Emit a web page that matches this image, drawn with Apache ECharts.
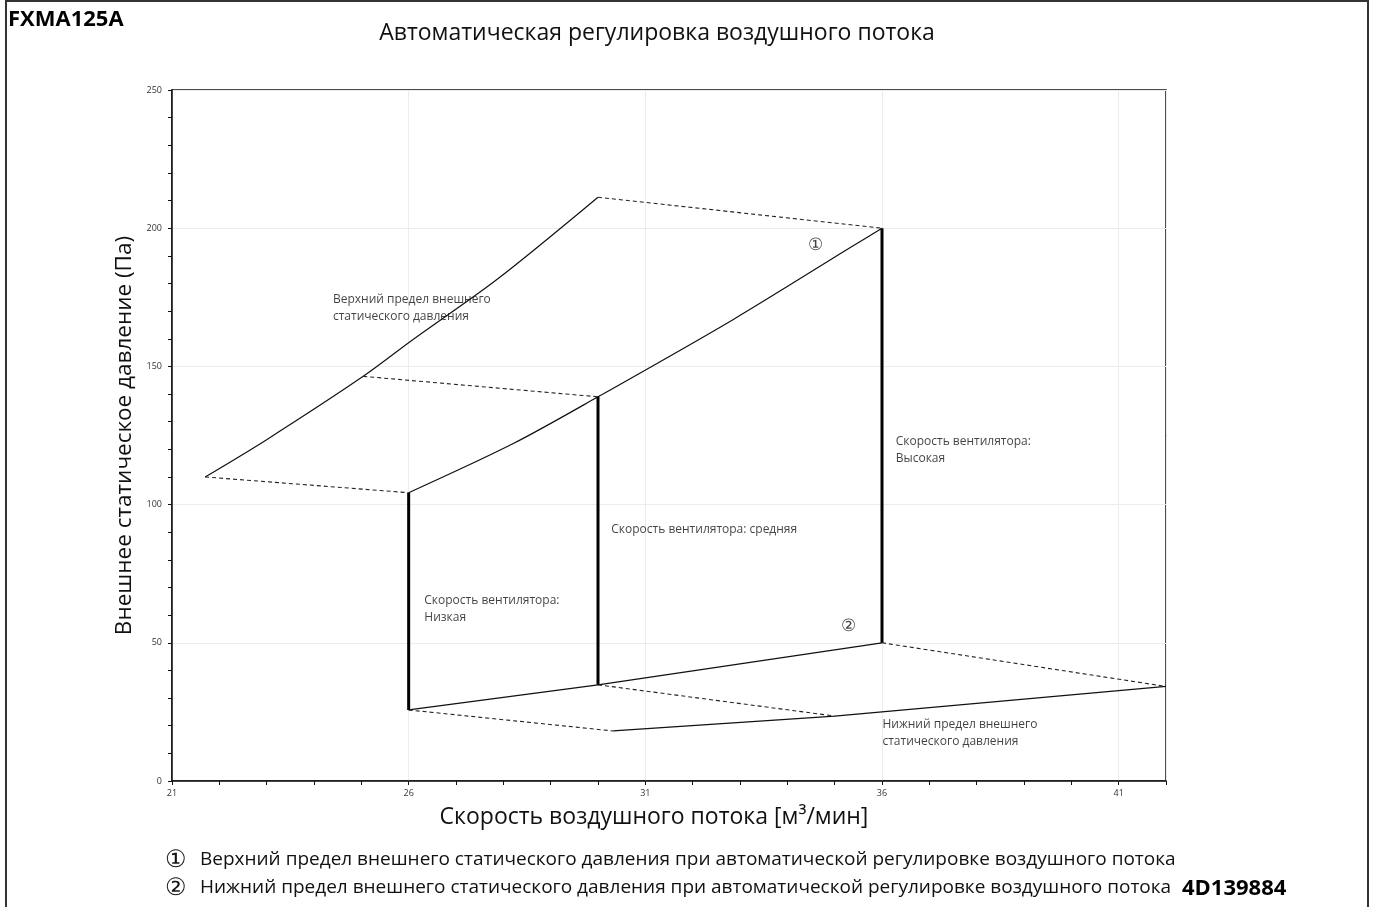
<!DOCTYPE html>
<html>
<head>
<meta charset="utf-8">
<title>FXMA125A</title>
<script src="https://cdn.jsdelivr.net/npm/echarts@6/dist/echarts.min.js"></script>
<style>
  html, body { margin: 0; padding: 0; background: #fff; }
  #main { width: 1375px; height: 907px; }
</style>
</head>
<body>
<div id="main"></div>
<script>
// кривые [расход м3/мин, давление Па]
var upperLimit = [[21.7, 110], [23, 123.5], [25.04, 146.4], [26.1, 159.8], [27.87, 181.5], [30, 211.2]];
var highCurve = [[26, 104.3], [28.2, 122], [30, 139], [32.86, 167], [35.33, 193], [36, 200]];
var lowCurve = [[26, 25.7], [30, 34.8], [36, 50]];
var lowerLimit = [[30.32, 18.1], [35, 23.5], [42, 34.2]];

// пунктирные связи
var dashLinks = [
  [[21.7, 110], [26, 104.3]],
  [[25.04, 146.4], [30, 139]],
  [[30, 211.2], [36, 200]],
  [[26, 25.7], [30.32, 18.1]],
  [[30, 34.8], [35, 23.5]],
  [[36, 50], [42, 34.2]]
];

// вертикали скорости вентилятора
var fanLines = [
  [[26, 25.7], [26, 104.3]],
  [[30, 34.8], [30, 139]],
  [[36, 50], [36, 200]]
];

// подписи
var notes = [
  { xy: [24.4, 171], text: 'Верхний предел внешнего\nстатического давления', align: 'left' },
  { xy: [34.6, 193.8], text: '①', align: 'center' },
  { xy: [36.29, 119.7], text: 'Скорость вентилятора:\nВысокая', align: 'left' },
  { xy: [30.28, 90.9], text: 'Скорость вентилятора: средняя', align: 'left' },
  { xy: [26.33, 62.3], text: 'Скорость вентилятора:\nНизкая', align: 'left' },
  { xy: [35.29, 56.2], text: '②', align: 'center' },
  { xy: [36.01, 17.4], text: 'Нижний предел внешнего\nстатического давления', align: 'left' }
];

var footnotes = [
  ['①', 'Верхний предел внешнего статического давления при автоматической регулировке воздушного потока'],
  ['②', 'Нижний предел внешнего статического давления при автоматической регулировке воздушного потока']
];

var xMin = 21, xMax = 42, yMin = 0, yMax = 250;

var chart = echarts.init(document.getElementById('main'));
var FONT = '"Open Sans", "Noto Sans", sans-serif';

var series = [];
function line(data, opts){
  series.push(Object.assign({
    type: 'line',
    data: data,
    xAxisIndex: 0,
    yAxisIndex: 0,
    symbol: 'none',
    silent: true,
    z: 3,
    lineStyle: { color: '#111', width: 1.2 }
  }, opts || {}));
}
line(upperLimit, { smooth: 0.3 });
line(highCurve, { smooth: 0.3 });
line(lowCurve);
line(lowerLimit);
dashLinks.forEach(function(d){
  line(d, { lineStyle: { color: '#222', width: 1.1, type: [4, 3] } });
});
fanLines.forEach(function(d){
  line(d, { lineStyle: { color: '#000', width: 3 } });
});

series.push({
  type: 'scatter',
  symbolSize: 0,
  silent: true,
  z: 4,
  data: notes.map(function(n){
    return {
      value: n.xy,
      label: {
        show: true,
        position: n.align === 'center' ? 'inside' : 'right',
        distance: 0,
        align: n.align,
        verticalAlign: 'middle',
        formatter: n.text,
        fontFamily: FONT,
        fontSize: n.align === 'center' ? 17 : 12,
        lineHeight: 17,
        color: '#111'
      }
    };
  })
});

var tickLabelStyle = { fontSize: 9, color: '#333', fontFamily: FONT };

var graphics = [
  { type: 'rect', shape: { x: 6, y: 1, width: 1362, height: 920 },
    style: { fill: 'none', stroke: '#333', lineWidth: 2 }, silent: true },
  { type: 'text', x: 8, y: 20,
    style: { text: 'FXMA125A', font: 'bold 22px ' + FONT, fill: '#000', verticalAlign: 'middle' } },
  { type: 'text', x: 657, y: 33,
    style: { text: 'Автоматическая регулировка воздушного потока', font: '23px ' + FONT,
             fill: '#111', align: 'center', verticalAlign: 'middle' } },
  { type: 'text', x: 1182, y: 889,
    style: { text: '4D139884', font: 'bold 22px ' + FONT, fill: '#000', verticalAlign: 'middle' } }
];
footnotes.forEach(function(f, i){
  var y = 860 + i * 28;
  graphics.push({ type: 'text', x: 165, y: y,
    style: { text: f[0], font: '24px ' + FONT, fill: '#111', verticalAlign: 'middle' } });
  graphics.push({ type: 'text', x: 200, y: y,
    style: { text: f[1], font: '19px ' + FONT, fill: '#111', verticalAlign: 'middle' } });
});

chart.setOption({
  backgroundColor: '#fff',
  animation: false,
  grid: {
    left: 172, right: 209, top: 90, bottom: 126,
    show: true, borderColor: '#111', borderWidth: 1.5
  },
  xAxis: [{
    type: 'value', min: xMin, max: xMax, interval: 1,
    name: 'Скорость воздушного потока [м³/мин]',
    nameLocation: 'middle', nameGap: 25,
    nameTextStyle: { fontSize: 23, color: '#111', fontFamily: FONT, padding: [0, 30, 0, 0] },
    axisLine: { lineStyle: { color: '#111', width: 1.5 } },
    axisTick: { length: 4, lineStyle: { color: '#111' } },
    axisLabel: Object.assign({
      margin: 8,
      formatter: function(v){ return ((v - xMin) % 5 === 0) ? String(v) : ''; }
    }, tickLabelStyle),
    splitLine: { show: false }
  }, {
    type: 'value', min: xMin, max: xMax, interval: 5, position: 'bottom',
    axisLine: { show: false }, axisTick: { show: false }, axisLabel: { show: false },
    splitLine: { show: true, lineStyle: { color: '#ececec', width: 1 } }
  }],
  yAxis: [{
    type: 'value', min: yMin, max: yMax, interval: 10,
    name: 'Внешнее статическое давление (Па)',
    nameLocation: 'middle', nameGap: 34,
    nameTextStyle: { fontSize: 22.5, color: '#111', fontFamily: FONT },
    axisLine: { show: true, lineStyle: { color: '#111', width: 1.5 } },
    axisTick: { show: true, length: 4, lineStyle: { color: '#111' } },
    axisLabel: Object.assign({
      margin: 10,
      formatter: function(v){ return (v % 50 === 0) ? String(v) : ''; }
    }, tickLabelStyle),
    splitLine: { show: false }
  }, {
    type: 'value', min: yMin, max: yMax, interval: 50, position: 'left',
    axisLine: { show: false }, axisTick: { show: false }, axisLabel: { show: false },
    splitLine: { show: true, lineStyle: { color: '#ececec', width: 1 } }
  }],
  graphic: graphics,
  series: series
});
</script>
</body>
</html>
